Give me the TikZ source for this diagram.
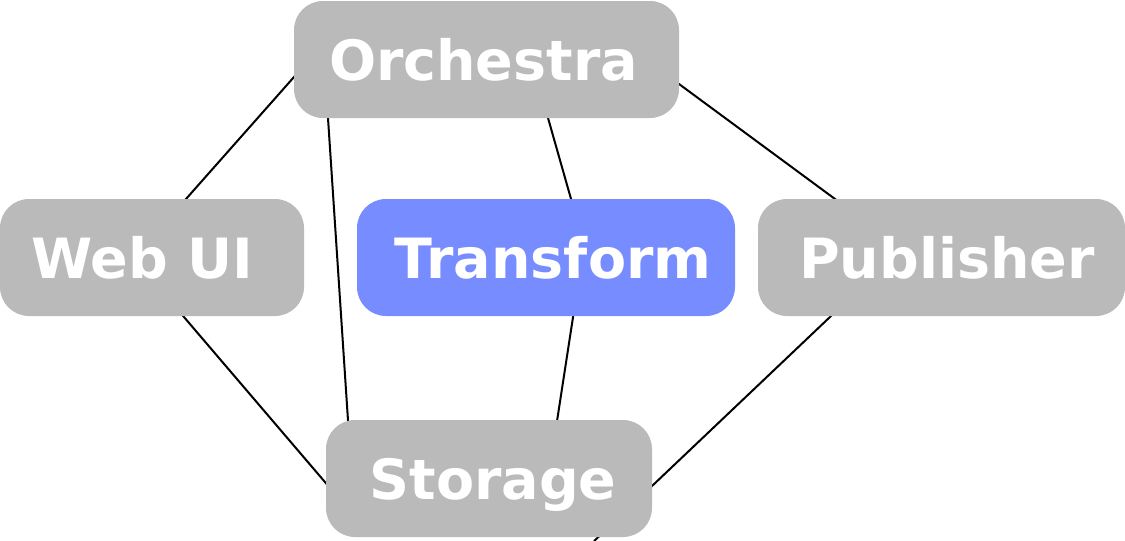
\documentclass[tikz,border=0pt]{standalone}
\usepackage{fontspec}
\setmainfont{DejaVu Sans}
\usetikzlibrary{backgrounds}
\definecolor{boxgray}{HTML}{BABABA}
\definecolor{boxblue}{HTML}{778CFF}
\begin{document}
\begin{tikzpicture}[x=1pt,y=-1pt,
  box/.style={rectangle, rounded corners=29pt, inner sep=0pt, minimum height=117pt, fill=boxgray},
  lbl/.style={anchor=base, inner sep=0pt, text=white, font=\fontsize{55.5}{60}\selectfont\bfseries},
  link/.style={draw=black, line width=2pt}]
\useasboundingbox (0,0) rectangle (1125,541);

% boxes
\node[box, minimum width=385pt] (orch) at (486.5,59.5) {};
\node[box, minimum width=304pt] (web) at (152,257.5) {};
\node[box, minimum width=378pt, fill=boxblue] (trans) at (546,257.5) {};
\node[box, minimum width=367pt] (pub) at (941.5,257.5) {};
\node[box, minimum width=326pt] (stor) at (489,478.5) {};

% labels
\node[lbl] (orchT) at ([xshift=-3pt,yshift=-20.5pt]orch.center) {Orchestra};
\node[lbl] (webT) at ([xshift=-9.5pt,yshift=-20.5pt]web.center) {Web UI};
\node[lbl] (transT) at ([xshift=7pt,yshift=-20.5pt]trans.center) {Transform};
\node[lbl] (pubT) at ([xshift=5.5pt,yshift=-20.5pt]pub.center) {Publisher};
\node[lbl] (storT) at ([xshift=4pt,yshift=-20.5pt]stor.center) {Storage};

% connectors, behind the boxes
\begin{pgfonlayer}{background}
\draw[link] ([xshift=-186.3pt,yshift=-10.5pt]orch.center) -- ([xshift=15.4pt,yshift=37.5pt]web.center);
\draw[link] ([xshift=-159.7pt,yshift=-40.5pt]orch.center) -- ([xshift=-139.7pt,yshift=38.5pt]stor.center);
\draw[link] ([xshift=56.4pt,yshift=-40.5pt]orch.center) -- ([xshift=31pt,yshift=37.5pt]trans.center);
\draw[link] ([xshift=173.5pt,yshift=-10.5pt]orch.center) -- ([xshift=-78pt,yshift=37.5pt]pub.center);
\draw[link] ([xshift=8.9pt,yshift=-32.5pt]web.center) -- ([xshift=-148.7pt,yshift=-21.5pt]stor.center);
\draw[link] ([xshift=31.2pt,yshift=-32.5pt]trans.center) -- ([xshift=65.1pt,yshift=38.5pt]stor.center);
\draw[link] ([xshift=-83.1pt,yshift=-32.5pt]pub.center) -- ([xshift=105.1pt,yshift=-62.5pt]stor.center);
\end{pgfonlayer}
\end{tikzpicture}
\end{document}
